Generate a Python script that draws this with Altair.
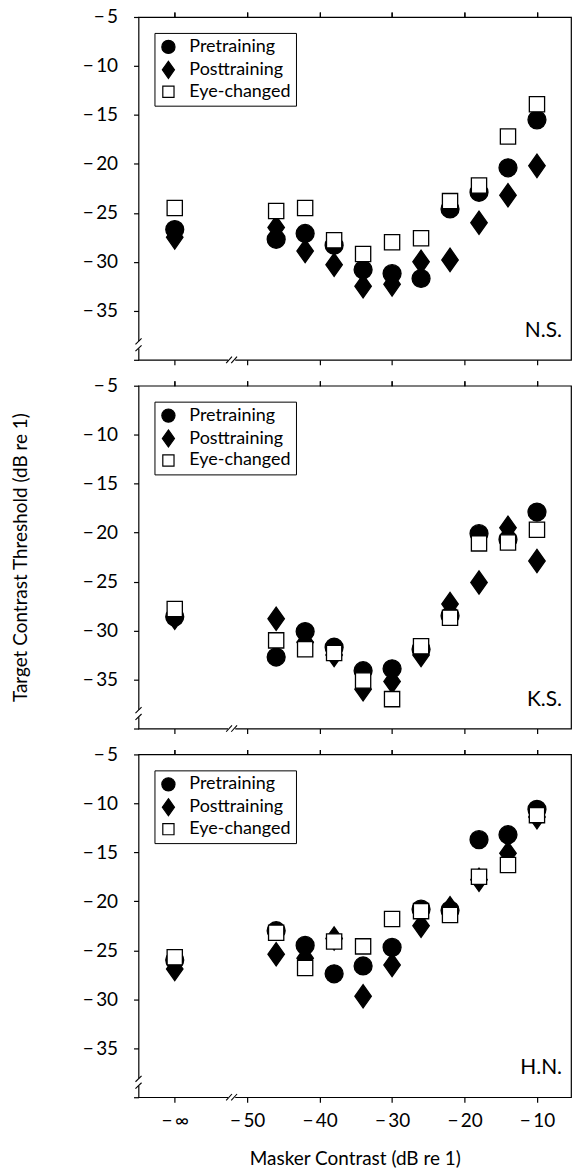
import altair as alt
import pandas as pd

# ---- data ----
masker = [-60, -46, -42, -38, -34, -30, -26, -22, -18, -14, -10]   # -60 stands for -inf
x_ticks = [-60, -50, -40, -30, -20, -10]
y_ticks = [-40, -35, -30, -25, -20, -15, -10, -5]
series = ["Pretraining", "Posttraining", "Eye-changed"]
observers = ["N.S.", "K.S.", "H.N."]

ns_pre = [-26.7, -27.7, -27.1, -28.3, -30.8, -31.2, -31.7, -24.6, -22.9, -20.4, -15.5]
ns_post = [-27.5, -26.5, -28.9, -30.3, -32.5, -32.3, -30.0, -29.8, -26.0, -23.2, -20.2]
ns_eye = [-24.5, -24.8, -24.5, -27.8, -29.2, -28.0, -27.6, -23.8, -22.2, -17.2, -13.9]

ks_pre = [-28.6, -32.7, -30.1, -31.7, -34.1, -33.9, -31.9, -28.5, -20.1, -20.7, -17.9]
ks_post = [-28.7, -28.8, -31.2, -32.5, -36.0, -35.2, -32.5, -27.3, -25.1, -19.5, -22.9]
ks_eye = [-27.8, -31.0, -31.9, -32.3, -35.1, -37.0, -31.6, -28.7, -21.1, -21.0, -19.7]

hn_pre = [-26.0, -23.0, -24.5, -27.4, -26.6, -24.7, -20.8, -20.9, -13.7, -13.2, -10.6]
hn_post = [-26.9, -25.4, -25.8, -23.8, -29.7, -26.5, -22.5, -20.7, -17.8, -15.1, -11.4]
hn_eye = [-25.7, -23.2, -26.8, -24.1, -24.6, -21.8, -21.0, -21.4, -17.5, -16.3, -11.2]

panel_data = [
    (observers[0], [ns_pre, ns_post, ns_eye]),
    (observers[1], [ks_pre, ks_post, ks_eye]),
    (observers[2], [hn_pre, hn_post, hn_eye]),
]

# ---- styling ----
FONT = "Lato"
W, H = 434, 344
X_DOM = [-65, -5.3]
Y_DOM = [-40, -5]
XB = -52.15   # x-axis break position
YB = -38.47   # y-axis break position
DIAMOND = "M0,-1.3L0.92,0L0,1.3L-0.92,0Z"
SQUARE = "M-0.85,-0.85L0.85,-0.85L0.85,0.85L-0.85,0.85Z"

xs = alt.Scale(domain=X_DOM, nice=False, zero=False)
ys = alt.Scale(domain=Y_DOM, nice=False, zero=False)

Y_LABEL = "datum.value <= -40 ? '' : '\u2212\u2009' + abs(datum.value)"
X_LABEL = "datum.value <= -60 ? '\u2212\u2009\u221e' : '\u2212\u2009' + abs(datum.value)"


def break_frames():
    gaps = pd.DataFrame([
        {"x": X_DOM[0], "x2": X_DOM[0], "y": YB + 0.38, "y2": YB - 0.38},
        {"x": XB - 0.5, "x2": XB + 0.5, "y": Y_DOM[0], "y2": Y_DOM[0]},
    ])
    slashes = pd.DataFrame([
        {"x": X_DOM[0] - 0.42, "x2": X_DOM[0] + 0.42, "y": YB + 0.05, "y2": YB + 0.65},
        {"x": X_DOM[0] - 0.42, "x2": X_DOM[0] + 0.42, "y": YB - 0.65, "y2": YB - 0.05},
        {"x": XB - 0.75, "x2": XB + 0.05, "y": Y_DOM[0] - 0.33, "y2": Y_DOM[0] + 0.33},
        {"x": XB - 0.05, "x2": XB + 0.75, "y": Y_DOM[0] - 0.33, "y2": Y_DOM[0] + 0.33},
    ])
    return gaps, slashes


def panel(name, vals, bottom, mid):
    rows = []
    for s, v in zip(series, vals):
        for x, y in zip(masker, v):
            rows.append({"masker": x, "threshold": y, "condition": s})
    df = pd.DataFrame(rows)

    bottom_axis = alt.Axis(
        orient="bottom", values=x_ticks, labelExpr=X_LABEL, labels=bottom,
        labelPadding=9, labelFontSize=19,
        title="Masker Contrast (dB re 1)" if bottom else None,
        titlePadding=20,
    )
    left_axis = alt.Axis(
        orient="left", values=y_ticks, labelExpr=Y_LABEL, labelPadding=16,
        labelFontSize=19,
        title="Target Contrast Threshold (dB re 1)" if mid else None,
        titlePadding=52,
    )
    leg = alt.Legend(title=None)

    points = alt.Chart(df).mark_point(
        filled=True, size=324, strokeWidth=1.3, opacity=1
    ).encode(
        x=alt.X("masker:Q", scale=xs, axis=bottom_axis),
        y=alt.Y("threshold:Q", scale=ys, axis=left_axis),
        shape=alt.Shape("condition:N", sort=series,
                        scale=alt.Scale(domain=series, range=["circle", DIAMOND, SQUARE]),
                        legend=leg),
        fill=alt.Fill("condition:N", sort=series,
                      scale=alt.Scale(domain=series, range=["black", "black", "white"]),
                      legend=leg),
        stroke=alt.Stroke("condition:N", sort=series,
                          scale=alt.Scale(domain=series, range=["black", "black", "black"]),
                          legend=leg),
    )

    gaps, slashes = break_frames()
    top_axis = alt.Axis(orient="top", values=x_ticks, labels=False, title=None)
    gap_layer = alt.Chart(gaps).mark_rule(color="white", strokeWidth=4).encode(
        x=alt.X("x:Q", scale=xs, axis=top_axis), x2="x2:Q",
        y=alt.Y("y:Q", scale=ys, axis=left_axis), y2="y2:Q",
    )
    slash_layer = alt.Chart(slashes).mark_rule(color="black", strokeWidth=1.1).encode(
        x=alt.X("x:Q", scale=xs, axis=top_axis), x2="x2:Q",
        y=alt.Y("y:Q", scale=ys, axis=left_axis), y2="y2:Q",
    )
    label = alt.Chart(pd.DataFrame({"name": [name]})).mark_text(
        align="right", baseline="alphabetic", font=FONT, fontSize=21, color="black"
    ).encode(x=alt.value(W - 9), y=alt.value(H - 23), text="name:N")

    return alt.layer(points, gap_layer, slash_layer, label).resolve_axis(
        x="independent"
    ).properties(width=W, height=H)


panels = [panel(n, v, i == 2, i == 1) for i, (n, v) in enumerate(panel_data)]

chart = alt.vconcat(*panels, spacing=26, bounds="flush").resolve_scale(
    shape="independent", fill="independent", stroke="independent"
).properties(
    padding={"left": 10, "top": 5, "right": 3, "bottom": 3},
    background="white",
).configure_view(
    stroke="black", strokeWidth=1.2
).configure_axis(
    labelFont=FONT, labelFontSize=18, labelColor="black",
    tickColor="black", tickSize=5, tickWidth=1.2,
    domain=False, grid=False,
    titleFont=FONT, titleFontSize=19, titleFontWeight="normal", titleColor="black",
).configure_legend(
    orient="top-left", offset=16, strokeColor="black", fillColor="white",
    padding=5, rowPadding=2, symbolSize=175, labelOffset=12,
    symbolStrokeWidth=1.2,
    labelFont=FONT, labelFontSize=18, labelColor="black",
)

chart.save("out.html", embed_options={"renderer": "svg", "actions": False})
